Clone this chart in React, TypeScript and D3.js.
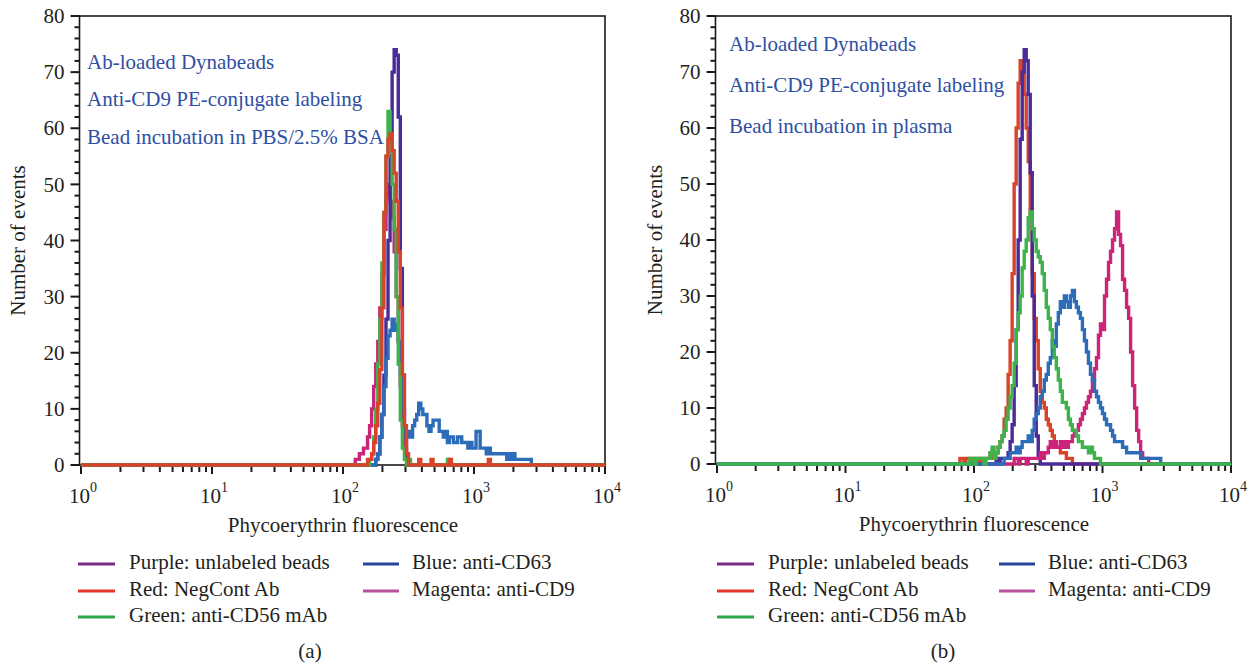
import * as d3 from "d3";

// histogram channels: 64 per decade over 4 decades
const CH_PER_DECADE = 64;
const N_CH = 256;

// ---- panel (a): bead incubation in PBS/2.5% BSA ----
const aMagentaStart = 134;
const aMagenta = [1, 1, 2, 2, 3, 3, 5, 7, 10, 14, 18, 22, 28, 34, 42, 48, 50, 47, 44, 38, 30, 22, 14, 7, 3, 1];
const aPurpleStart = 144;
const aPurple = [1, 2, 5, 9, 16, 26, 40, 55, 70, 74, 73, 62, 35, 16, 5, 1];
const aBlueStart = 144;
const aBlue = [
  1, 2, 5, 9, 14, 19, 23, 24, 26, 24, 25, 22, 16, 10, 6, 5, 6, 5, 7, 8,
  9, 11, 10, 9, 9, 7, 6, 7, 8, 8, 8, 6, 6, 5, 6, 4, 5, 5, 4, 4,
  5, 5, 4, 4, 4, 3, 4, 3, 3, 6, 6, 3, 3, 3, 2, 3, 2, 2, 2, 2,
  2, 2, 2, 2, 1, 2, 1, 2, 1, 1, 1, 1, 1, 1, 1, 1,
];
const aGreenStart = 141;
const aGreen = [1, 2, 5, 10, 18, 26, 36, 45, 55, 63, 58, 50, 42, 30, 18, 8, 3, 1, 0, 1];
const aGreenSingles = [179];
const aRedStart = 140;
const aRed = [1, 1, 2, 4, 7, 11, 17, 28, 45, 55, 58, 59, 56, 52, 47, 38, 28, 16, 7, 2];
const aRedSingles = [165, 171, 180, 199];

// ---- panel (b): bead incubation in plasma ----
const bRedStart = 121;
const bRed = [
  1, 1, 0, 1, 1, 0, 1, 1, 1, 0, 1, 0, 1, 1, 1, 2, 1, 2, 2, 3,
  4, 5, 8, 10, 16, 22, 34, 50, 60, 68, 72, 70, 66, 60, 54, 44, 34, 26, 22, 17,
  13, 11, 10, 8, 7, 6, 5, 4, 3, 3, 2, 2, 2, 1, 1, 1,
];
const bPurpleStart = 139;
const bPurple = [1, 0, 1, 1, 1, 1, 2, 4, 7, 14, 24, 40, 58, 70, 74, 72, 66, 52, 30, 14, 5, 1];
const bMagentaStart = 148;
const bMagenta = [
  1, 1, 0, 1, 1, 1, 0, 1, 1, 1, 1, 1, 1, 2, 1, 2, 2, 3, 4, 3,
  4, 3, 3, 4, 3, 4, 3, 4, 4, 5, 6, 6, 7, 8, 9, 10, 11, 12, 13, 15,
  17, 19, 23, 25, 24, 30, 33, 36, 38, 40, 42, 45, 41, 39, 33, 31, 28, 26, 20, 14,
  10, 6, 4, 2, 1, 1, 1,
];
const bBlueStart = 143;
const bBlue = [
  1, 1, 1, 2, 2, 2, 3, 2, 3, 4, 4, 4, 5, 4, 6, 8, 9, 10, 12, 13,
  15, 16, 18, 19, 22, 21, 25, 27, 29, 28, 30, 29, 28, 30, 31, 29, 28, 27, 26, 24,
  22, 20, 18, 16, 15, 13, 12, 11, 10, 9, 8, 7, 7, 6, 5, 4, 4, 4, 4, 3,
  3, 2, 2, 2, 2, 2, 2, 2, 1, 1, 1, 1, 1, 1, 1, 1, 1, 1,
];
const bGreenStart = 126;
const bGreen = [
  1, 1, 0, 1, 1, 1, 1, 0, 1, 1, 2, 3, 1, 2, 3, 4, 5, 6, 8, 10,
  12, 14, 18, 24, 27, 30, 35, 38, 40, 44, 45, 42, 40, 38, 37, 36, 34, 31, 28, 26,
  24, 21, 19, 17, 15, 13, 11, 11, 10, 8, 7, 6, 6, 5, 4, 4, 3, 3, 3, 2,
  3, 2, 1, 1, 1,
];

const yTickLabels = [0, 10, 20, 30, 40, 50, 60, 70, 80];
const xTickExponents = ["0", "1", "2", "3", "4"];

const annotationA = ["Ab-loaded Dynabeads", "Anti-CD9 PE-conjugate labeling", "Bead incubation in PBS/2.5% BSA"];
const annotationB = ["Ab-loaded Dynabeads", "Anti-CD9 PE-conjugate labeling", "Bead incubation in plasma"];

const legendCol1 = ["Purple: unlabeled beads", "Red: NegCont Ab", "Green: anti-CD56 mAb"];
const legendCol1Colors = ["#7B2C89", "#E5332A", "#2CA84B"];
const legendCol2 = ["Blue: anti-CD63", "Magenta: anti-CD9"];
const legendCol2Colors = ["#27449B", "#B8529E"];

const C = {
  purple: "#4A2B98",
  red: "#D8432A",
  green: "#3DB44B",
  blue: "#2C6CB8",
  magenta: "#CB2479",
};

const FONT = "'Liberation Serif', 'Times New Roman', serif";
const TEXT = "#231F20";
const NOTE = "#2F4FA3";

function fill(start: number, counts: number[], singles: number[] = []) {
  const full = new Array(N_CH).fill(0);
  counts.forEach((c, i) => (full[start + i] = c));
  singles.forEach((ch) => (full[ch] = 1));
  return full;
}

const seriesA = [
  { color: C.magenta, data: fill(aMagentaStart, aMagenta) },
  { color: C.purple, data: fill(aPurpleStart, aPurple) },
  { color: C.blue, data: fill(aBlueStart, aBlue) },
  { color: C.green, data: fill(aGreenStart, aGreen, aGreenSingles) },
  { color: C.red, data: fill(aRedStart, aRed, aRedSingles) },
];

const seriesB = [
  { color: C.red, data: fill(bRedStart, bRed) },
  { color: C.purple, data: fill(bPurpleStart, bPurple) },
  { color: C.magenta, data: fill(bMagentaStart, bMagenta) },
  { color: C.blue, data: fill(bBlueStart, bBlue) },
  { color: C.green, data: fill(bGreenStart, bGreen) },
];

type PanelProps = {
  left: number;
  right: number;
  top: number;
  bottom: number;
  series: { color: string; data: number[] }[];
  notes: string[];
  noteX: number;
  noteY: number[];
  legendX: number;
  legend2X: number;
  label: string;
  labelX: number;
  yTitleX: number;
};

function Panel(p: PanelProps) {
  const x = d3.scaleLog().domain([1, 1e4]).range([p.left, p.right]);
  const y = d3.scaleLinear().domain([0, 80]).range([p.bottom, p.top]);

  const line = d3
    .line<[number, number]>()
    .x((d) => x(Math.pow(10, d[0] / CH_PER_DECADE)))
    .y((d) => y(d[1]))
    .curve(d3.curveStepAfter);

  const xTicks = x.ticks();
  const yMinor = d3.range(0, 81, 2);
  const axisX = p.left - 1.5;
  const legendRows = [569, 596, 622];

  return (
    <g fontFamily={FONT}>
      {/* frame */}
      <rect x={axisX} y={p.top} width={p.right - axisX} height={p.bottom - p.top} fill="none" stroke="#1a1a1a" strokeWidth={1.6} />
      {/* y ticks */}
      {yMinor.map((v) => (
        <line key={"ym" + v} x1={axisX - (v % 10 === 0 ? 9 : 5)} x2={axisX} y1={y(v)} y2={y(v)} stroke="#1a1a1a" strokeWidth={2} />
      ))}
      {yTickLabels.map((v) => (
        <text key={"yl" + v} x={axisX - 15} y={y(v)} dy="0.34em" textAnchor="end" fontSize={21} fill={TEXT}>
          {v}
        </text>
      ))}
      {/* x ticks */}
      {xTicks.map((v, i) => {
        const major = Math.abs(Math.log10(v) - Math.round(Math.log10(v))) < 1e-9;
        return (
          <line key={"xt" + i} x1={x(v)} x2={x(v)} y1={p.bottom + 1} y2={p.bottom + (major ? 9 : 7)} stroke="#1a1a1a" strokeWidth={2} />
        );
      })}
      {xTickExponents.map((e, i) => (
        <text key={"xl" + e} x={x(Math.pow(10, i)) - 12} y={p.bottom + 38} fontSize={21} fill={TEXT}>
          10
          <tspan dy={-11} fontSize={14}>{e}</tspan>
        </text>
      ))}
      <text x={(p.left + p.right) / 2} y={p.bottom + 67} textAnchor="middle" fontSize={21} fill={TEXT}>
        Phycoerythrin fluorescence
      </text>
      <text
        transform={`translate(${p.yTitleX},${(p.top + p.bottom) / 2}) rotate(-90)`}
        textAnchor="middle"
        fontSize={21}
        fill={TEXT}
      >
        Number of events
      </text>
      {/* histograms */}
      {p.series.map((s, i) => {
        const pts: [number, number][] = s.data.map((v, ch) => [ch, v]);
        pts.push([N_CH, s.data[N_CH - 1]]);
        return <path key={"s" + i} d={line(pts) || ""} fill="none" stroke={s.color} strokeWidth={3.4} />;
      })}
      {/* annotation */}
      {p.notes.map((t, i) => (
        <text key={"n" + i} x={p.noteX} y={p.noteY[i]} fontSize={21} fill={NOTE}>
          {t}
        </text>
      ))}
      {/* legend */}
      {legendCol1.map((t, i) => (
        <g key={"l1" + i}>
          <line x1={p.legendX} x2={p.legendX + 37} y1={legendRows[i] - 5} y2={legendRows[i] - 5} stroke={legendCol1Colors[i]} strokeWidth={3} />
          <text x={p.legendX + 51} y={legendRows[i]} fontSize={21} fill={TEXT}>{t}</text>
        </g>
      ))}
      {legendCol2.map((t, i) => (
        <g key={"l2" + i}>
          <line x1={p.legend2X} x2={p.legend2X + 36} y1={legendRows[i] - 5} y2={legendRows[i] - 5} stroke={legendCol2Colors[i]} strokeWidth={3} />
          <text x={p.legend2X + 49} y={legendRows[i]} fontSize={21} fill={TEXT}>{t}</text>
        </g>
      ))}
      <text x={p.labelX} y={658} textAnchor="middle" fontSize={21} fill={TEXT}>
        {p.label}
      </text>
    </g>
  );
}

export default function App() {
  return (
    <svg
      width={1253}
      height={665}
      style={{ position: "absolute", left: 0, top: 0, background: "#fff" }}
    >
      <Panel
        left={81}
        right={605}
        top={16}
        bottom={465}
        series={seriesA}
        notes={annotationA}
        noteX={87}
        noteY={[69, 106, 144]}
        legendX={78}
        legend2X={363}
        label="(a)"
        labelX={310}
        yTitleX={25}
      />
      <Panel
        left={717}
        right={1231}
        top={16}
        bottom={464}
        series={seriesB}
        notes={annotationB}
        noteX={729}
        noteY={[51, 92, 133]}
        legendX={717}
        legend2X={999}
        label="(b)"
        labelX={943}
        yTitleX={662}
      />
    </svg>
  );
}
